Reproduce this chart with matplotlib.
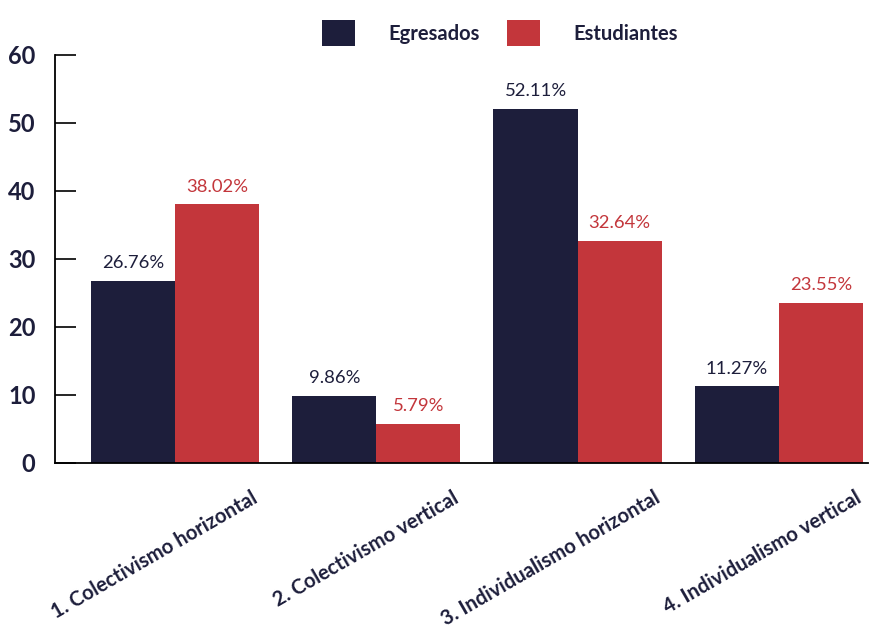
import matplotlib
matplotlib.use("Agg")
import matplotlib.pyplot as plt
import numpy as np
from matplotlib.transforms import blended_transform_factory

categories = [
    "1. Colectivismo horizontal",
    "2. Colectivismo vertical",
    "3. Individualismo horizontal",
    "4. Individualismo vertical",
]
egresados = [26.76, 9.86, 52.11, 11.27]
estudiantes = [38.02, 5.79, 32.64, 23.55]
series_names = ["Egresados", "Estudiantes"]
yticks = [0, 10, 20, 30, 40, 50, 60]

NAVY = "#1d1e3b"
RED = "#c3363b"

plt.rcParams["font.family"] = ["Lato", "DejaVu Sans"]

fig = plt.figure(figsize=(8.78, 6.36), dpi=100)
ax = fig.add_axes([55 / 878, 1 - 463 / 636, 813 / 878, 408 / 636])

x = np.arange(len(categories))
w = 0.418
b1 = ax.bar(x - w / 2, egresados, w, color=NAVY, label=series_names[0])
b2 = ax.bar(x + w / 2, estudiantes, w, color=RED, label=series_names[1])

for bars, vals, col in ((b1, egresados, NAVY), (b2, estudiantes, RED)):
    for rect, v in zip(bars, vals):
        ax.annotate(f"{v:.2f}%", (rect.get_x() + rect.get_width() / 2, v),
                    xytext=(0, 7), textcoords="offset points",
                    ha="center", va="bottom", fontsize=13.3, color=col)

ax.set_xlim(-0.597, 3.443)
ax.set_ylim(0, 60)
ax.set_yticks(yticks)
ax.set_yticklabels([str(t) for t in yticks], fontsize=17, fontweight="bold",
                   color=NAVY)
ax.tick_params(axis="y", direction="in", length=15, width=1.2, pad=14,
               color="black")
ax.tick_params(axis="x", length=0)
ax.set_xticks([])
for s in ("top", "right"):
    ax.spines[s].set_visible(False)
for s in ("left", "bottom"):
    ax.spines[s].set_linewidth(1.3)
    ax.spines[s].set_color("black")

trans = blended_transform_factory(ax.transData, ax.transAxes)
for i, lab in enumerate(categories):
    ax.text(i + w - 0.015, -0.082, lab, transform=trans, rotation=30,
            rotation_mode="anchor", ha="right", va="center",
            fontsize=14.6, fontweight="bold", color=NAVY)

leg = fig.legend(handles=[b1, b2], labels=series_names, loc="center",
                 bbox_to_anchor=(500 / 878, 1 - 33 / 636), ncol=2,
                 frameon=False, fontsize=14.5, handlelength=1.63,
                 handleheight=1.63, handletextpad=1.65, columnspacing=1.35)
for t in leg.get_texts():
    t.set_color(NAVY)
    t.set_fontweight("bold")

fig.savefig("out.png", dpi=100)
